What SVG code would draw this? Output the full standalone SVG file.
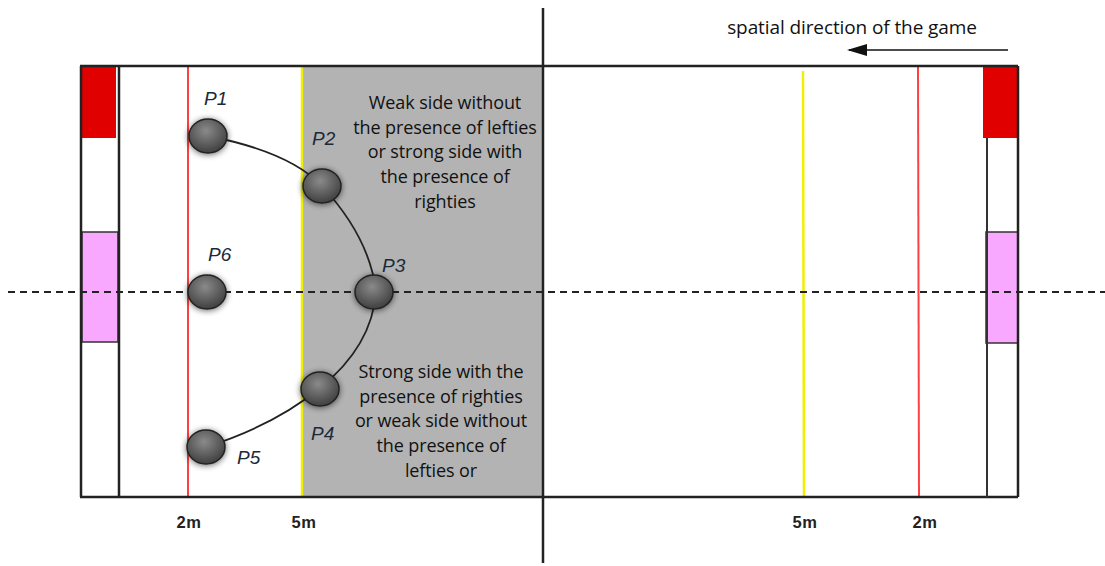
<svg xmlns="http://www.w3.org/2000/svg" width="1105" height="566" viewBox="0 0 1105 566">
<style>
.frame{stroke:#222;stroke-width:2.5;fill:none}
.thin{stroke:#333;stroke-width:2;fill:none}
.red{stroke:#ff4040;stroke-width:2}
.yel{stroke:#f0f000;stroke-width:2.5}
.lbl{font-family:"Liberation Sans",Arial,sans-serif;font-style:italic;font-size:19px;fill:#1a2a3a}
.note{font-family:"Open Sans","Noto Sans",sans-serif;font-size:18px;fill:#111;text-anchor:middle;letter-spacing:-0.1px}
.m{font-family:"Liberation Sans",Arial,sans-serif;font-weight:bold;font-size:16.5px;fill:#222;text-anchor:middle;letter-spacing:0.5px}
.pl{fill:url(#ball);stroke:#222;stroke-width:1.5;filter:url(#sh)}
</style>
<defs>
<radialGradient id="ball" cx="0.45" cy="0.35" r="0.7">
<stop offset="0" stop-color="#8a8a8a"/>
<stop offset="1" stop-color="#3a3a3a"/>
</radialGradient>
<filter id="sh" x="-50%" y="-50%" width="200%" height="200%">
<feGaussianBlur in="SourceAlpha" stdDeviation="3" result="b"/>
<feOffset in="b" dx="0" dy="1" result="o"/>
<feComponentTransfer in="o" result="s"><feFuncA type="linear" slope="0.6"/></feComponentTransfer>
<feMerge><feMergeNode in="s"/><feMergeNode in="SourceGraphic"/></feMerge>
</filter>
<marker id="ah" viewBox="0 0 10 10" refX="9" refY="5" markerWidth="20" markerHeight="12" markerUnits="userSpaceOnUse" orient="auto" preserveAspectRatio="none">
<path d="M10,5 L0,0 L0,10 z" fill="#111"/>
</marker>
</defs>
<rect width="1105" height="566" fill="#fff"/>
<g id="court">
<rect x="302" y="67" width="241" height="430" fill="#b3b3b3"/>
<rect x="81" y="66" width="35" height="72" fill="#e00000"/>
<rect x="82" y="232" width="36" height="110" fill="#f9a8ff" stroke="#333" stroke-width="1.5"/>
<rect x="983" y="66" width="34" height="72" fill="#e00000"/>
<rect x="986" y="232" width="32" height="111" fill="#f9a8ff" stroke="#333" stroke-width="1.5"/>
<line class="red" x1="188" y1="67" x2="188" y2="497"/>
<line class="yel" x1="302" y1="67" x2="302" y2="497"/>
<line class="yel" x1="803" y1="71" x2="804" y2="497"/>
<line class="red" x1="918" y1="67" x2="919" y2="497"/>
<line class="frame" x1="80" y1="66" x2="1018" y2="66"/>
<line class="frame" x1="80" y1="497" x2="1018" y2="497"/>
<line class="frame" x1="81" y1="66" x2="81" y2="497"/>
<line class="frame" x1="119" y1="66" x2="119" y2="497"/>
<line class="thin" x1="987" y1="138" x2="987" y2="497"/>
<line class="frame" x1="1018" y1="66" x2="1018" y2="497"/>
<line x1="8" y1="292" x2="1105" y2="292" stroke="#222" stroke-width="2" stroke-dasharray="7,5"/>
<line x1="543" y1="8" x2="543" y2="563" stroke="#222" stroke-width="2.5"/>
</g>
<g id="connectors">
<path d="M208,136 Q290,152 322,186 Q370,238 376,292 Q372,346 320,388 Q275,425 206,447" fill="none" stroke="#222" stroke-width="1.8"/>
</g>
<g id="P1"><ellipse class="pl" cx="208" cy="136" rx="19" ry="17"/><text class="lbl" x="204" y="105">P1</text></g>
<g id="P2"><ellipse class="pl" cx="322" cy="186" rx="19" ry="17"/><text class="lbl" x="312" y="145">P2</text></g>
<g id="P3"><ellipse class="pl" cx="374" cy="292" rx="19" ry="17"/><text class="lbl" x="382" y="272">P3</text></g>
<g id="P4"><ellipse class="pl" cx="320" cy="389" rx="19" ry="17"/><text class="lbl" x="311" y="440">P4</text></g>
<g id="P5"><ellipse class="pl" cx="206" cy="447" rx="19" ry="17"/><text class="lbl" x="237" y="464">P5</text></g>
<g id="P6"><ellipse class="pl" cx="207" cy="292" rx="19" ry="17"/><text class="lbl" x="208" y="261">P6</text></g>
<g id="note-top">
<text class="note" x="445" y="109">Weak side without</text>
<text class="note" x="445" y="134">the presence of lefties</text>
<text class="note" x="445" y="158">or strong side with</text>
<text class="note" x="445" y="183">the presence of</text>
<text class="note" x="445" y="208">righties</text>
</g>
<g id="note-bottom">
<text class="note" x="441" y="378">Strong side with the</text>
<text class="note" x="441" y="403">presence of righties</text>
<text class="note" x="441" y="427">or weak side without</text>
<text class="note" x="441" y="452">the presence of</text>
<text class="note" x="441" y="477">lefties or</text>
</g>
<g id="direction">
<text x="852" y="34" font-family="'Open Sans','Noto Sans',sans-serif" font-size="19" fill="#111" text-anchor="middle" letter-spacing="-0.1">spatial direction of the game</text>
<line x1="1008" y1="50" x2="849" y2="50" stroke="#111" stroke-width="1.3" marker-end="url(#ah)"/>
</g>
<g id="marks">
<text class="m" x="189" y="528">2m</text>
<text class="m" x="304" y="528">5m</text>
<text class="m" x="805" y="528">5m</text>
<text class="m" x="925" y="528">2m</text>
</g>
</svg>
